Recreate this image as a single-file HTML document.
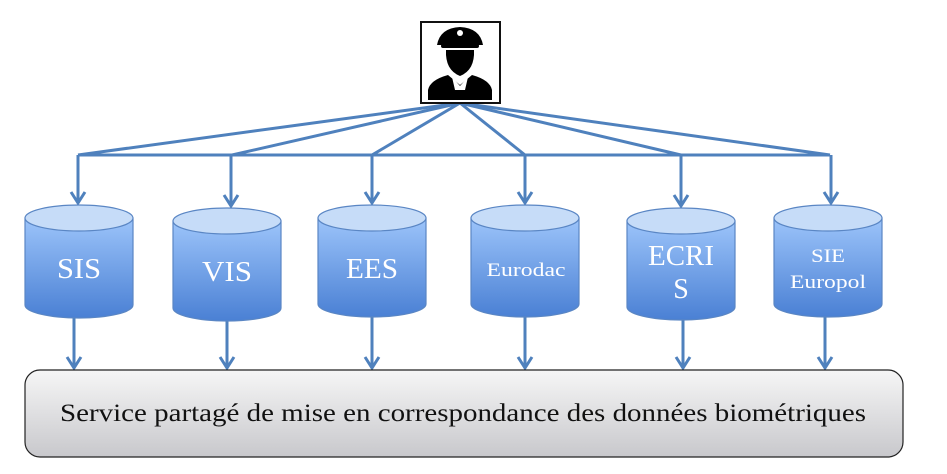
<!DOCTYPE html>
<html><head><meta charset="utf-8"><style>body{margin:0;background:#fff}svg{display:block}</style></head><body>
<svg width="947" height="474" viewBox="0 0 947 474" xmlns="http://www.w3.org/2000/svg">
<defs>
<linearGradient id="cb" x1="0" y1="0" x2="0" y2="1"><stop offset="0" stop-color="#9cc4fa"/><stop offset="1" stop-color="#4a80d4"/></linearGradient>
<linearGradient id="bx" x1="0" y1="0" x2="0" y2="1"><stop offset="0" stop-color="#f6f6f6"/><stop offset="1" stop-color="#c8c8cc"/></linearGradient>
</defs>
<g stroke="#4f81bd" stroke-width="3" fill="none">
<line x1="460" y1="103" x2="78" y2="155"/><line x1="460" y1="103" x2="232" y2="155"/><line x1="460" y1="103" x2="372" y2="155"/><line x1="460" y1="103" x2="525" y2="155"/><line x1="460" y1="103" x2="681" y2="155"/><line x1="460" y1="103" x2="830" y2="155"/>
<line x1="78" y1="155" x2="830" y2="155"/>
<path d="M78,155V203M71,192L78,203L85,192"/>
<path d="M231,155V206M224,195L231,206L238,195"/>
<path d="M372,155V203M365,192L372,203L379,192"/>
<path d="M525,155V203M518,192L525,203L532,192"/>
<path d="M681,155V206M674,195L681,206L688,195"/>
<path d="M831,155V203M824,192L831,203L838,192"/>
<path d="M74,318V368M67,357L74,368L81,357"/>
<path d="M227,320V368M220,357L227,368L234,357"/>
<path d="M372,316V368M365,357L372,368L379,357"/>
<path d="M525,316V368M518,357L525,368L532,357"/>
<path d="M683,320V368M676,357L683,368L690,357"/>
<path d="M825,316V368M818,357L825,368L832,357"/>
</g>
<g stroke="#5a86c4" stroke-width="1.2">
<path d="M25,218 V305 A54,13 0 0 0 133,305 V218 Z" fill="url(#cb)"/><ellipse cx="79" cy="218" rx="54" ry="13" fill="#c6dcf8"/>
<path d="M173,221 V308 A54,13 0 0 0 281,308 V221 Z" fill="url(#cb)"/><ellipse cx="227" cy="221" rx="54" ry="13" fill="#c6dcf8"/>
<path d="M318,218 V304 A54,13 0 0 0 426,304 V218 Z" fill="url(#cb)"/><ellipse cx="372" cy="218" rx="54" ry="13" fill="#c6dcf8"/>
<path d="M471,218 V304 A54,13 0 0 0 579,304 V218 Z" fill="url(#cb)"/><ellipse cx="525" cy="218" rx="54" ry="13" fill="#c6dcf8"/>
<path d="M627,221 V307 A54,13 0 0 0 735,307 V221 Z" fill="url(#cb)"/><ellipse cx="681" cy="221" rx="54" ry="13" fill="#c6dcf8"/>
<path d="M774,218 V304 A54,13 0 0 0 882,304 V218 Z" fill="url(#cb)"/><ellipse cx="828" cy="218" rx="54" ry="13" fill="#c6dcf8"/>
</g>
<g fill="#fff" font-family="Liberation Serif, serif" text-anchor="middle">
<text x="79" y="278" font-size="28" textLength="44" lengthAdjust="spacingAndGlyphs">SIS</text>
<text x="227" y="281" font-size="28" textLength="50" lengthAdjust="spacingAndGlyphs">VIS</text>
<text x="372" y="278" font-size="28" textLength="52" lengthAdjust="spacingAndGlyphs">EES</text>
<text x="526" y="276" font-size="19" textLength="79" lengthAdjust="spacingAndGlyphs">Eurodac</text>
<text x="681" y="265" font-size="28" textLength="66" lengthAdjust="spacingAndGlyphs">ECRI</text><text x="681" y="298" font-size="28">S</text>
<text x="828" y="262" font-size="19" textLength="34" lengthAdjust="spacingAndGlyphs">SIE</text><text x="828" y="288" font-size="19" textLength="76" lengthAdjust="spacingAndGlyphs">Europol</text>
</g>
<rect x="25" y="370" width="878" height="87" rx="15" fill="url(#bx)" stroke="#222" stroke-width="1.2"/>
<text x="463" y="421" font-family="Liberation Serif, serif" font-size="25" text-anchor="middle" fill="#111" textLength="806" lengthAdjust="spacingAndGlyphs">Service partagé de mise en correspondance des données biométriques</text>
<rect x="421" y="22" width="79" height="81" fill="#fff" stroke="#111" stroke-width="2"/>
<g fill="#000">
<path d="M437,45 Q440,28 460,27 Q480,28 483,45 Z"/>
<rect x="441" y="44" width="38" height="4" rx="2"/>
<path d="M446,50 H474 Q475,70 460,76 Q445,70 446,50 Z"/>
<path d="M428,100 V90 Q430,80 448,75 L460,85 L472,75 Q490,80 492,90 V100 Z"/>
</g>
<circle cx="460" cy="33" r="3" fill="#fff"/>
<path d="M452,77 L460,86 L468,77 L465,90 H455 Z" fill="#fff"/>
</svg>
</body></html>
